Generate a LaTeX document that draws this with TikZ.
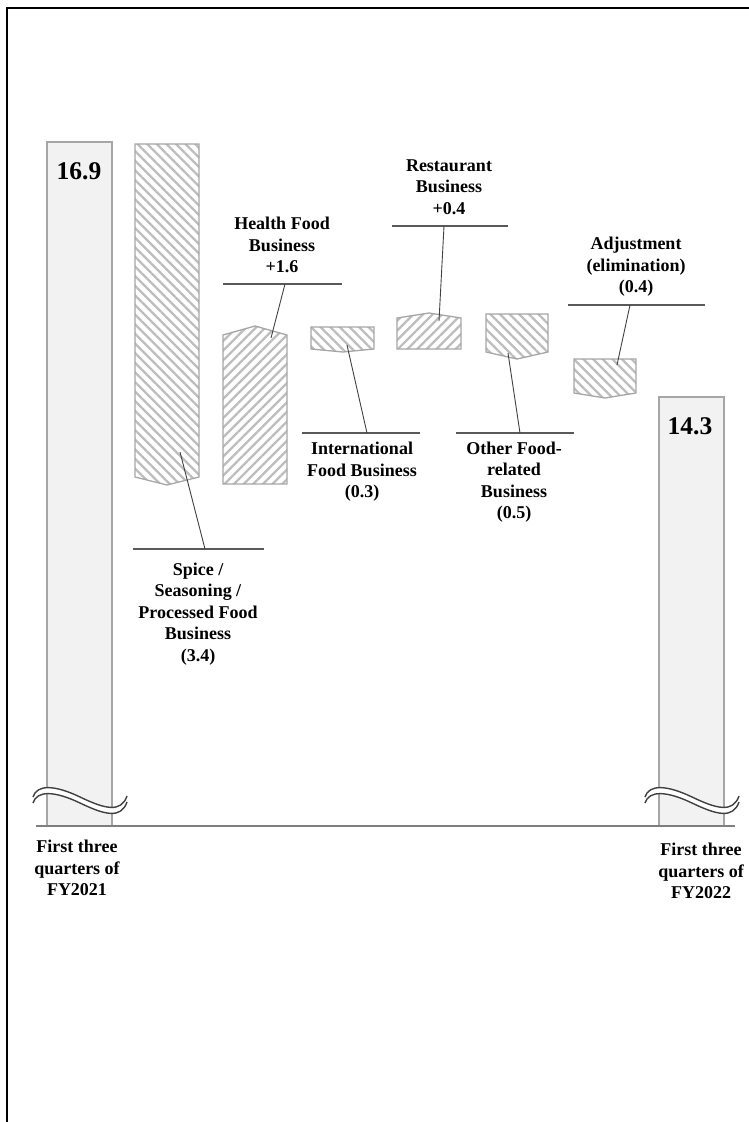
\documentclass[tikz,border=0pt]{standalone}
\usepackage{fontspec}
\setmainfont{Liberation Serif}
\usetikzlibrary{patterns.meta}
\definecolor{barfill}{HTML}{F2F2F2}
\definecolor{barline}{HTML}{A6A6A6}
\definecolor{hatchcol}{HTML}{BDBDBD}
\definecolor{leadcol}{HTML}{404040}
\definecolor{ulcol}{HTML}{595959}
\definecolor{axiscol}{HTML}{7F7F7F}
\begin{document}
\begin{tikzpicture}[x=1pt,y=-1pt,
  lbl/.style={font=\bfseries\fontsize{18}{21.5}\selectfont, align=center, text=black, inner sep=0pt},
  bignum/.style={font=\bfseries\fontsize{25.5}{27}\selectfont, text=black, inner sep=0pt},
  totalbar/.style={draw=barline, line width=1.3pt, fill=barfill},
  hatchdown/.style={draw=barline, line width=1.3pt, pattern={Lines[angle=-45,distance=6.8pt,line width=2.3pt]}, pattern color=hatchcol},
  hatchup/.style={draw=barline, line width=1.3pt, pattern={Lines[angle=45,distance=6.8pt,line width=2.3pt]}, pattern color=hatchcol},
  leader/.style={draw=leadcol, line width=0.9pt},
  underline/.style={draw=ulcol, line width=1.3pt},
  wave/.style={draw=leadcol, line width=1.4pt},
  frame/.style={draw=black, line width=2pt}
]
\useasboundingbox (0,0) rectangle (749,1122);
% frame
\draw[frame] (6,8) -- (749,8);
\draw[frame] (7,7) -- (7,1122);

% total bars
\draw[totalbar] (47,142) rectangle (112,826);
\draw[totalbar] (659,397) rectangle (724,826);

% change bars
\draw[hatchdown] (135,144) -- (199,144) -- (199,477) -- (167,485) -- (135,477) -- cycle;
\draw[hatchup] (223,484) -- (223,335) -- (255,326) -- (287,335) -- (287,484) -- cycle;
\draw[hatchdown] (311,327) -- (374,327) -- (374,349) -- (343,352) -- (311,349) -- cycle;
\draw[hatchup] (397,349) -- (397,318) -- (429,313) -- (461,318) -- (461,349) -- cycle;
\draw[hatchdown] (486,314) -- (548,314) -- (548,352) -- (517,359) -- (486,352) -- cycle;
\draw[hatchdown] (574,359) -- (636,359) -- (636,393) -- (605,398) -- (574,393) -- cycle;

% break symbols
\foreach \dx in {0,612}{
  \begin{scope}[shift={(\dx,0)}]
    \fill[white] (33,797) .. controls (37,784) and (55,785) .. (80,797) .. controls (105,809) and (121,813) .. (127,796)
      -- (127,802) .. controls (121,819) and (105,815) .. (80,803) .. controls (55,791) and (37,790) .. (33,803) -- cycle;
    \draw[wave] (33,797) .. controls (37,784) and (55,785) .. (80,797) .. controls (105,809) and (121,813) .. (127,796);
    \draw[wave] (33,803) .. controls (37,790) and (55,791) .. (80,803) .. controls (105,815) and (121,819) .. (127,802);
  \end{scope}
}

% axis
\coordinate (axL) at (36,826);
\coordinate (axR) at (735,826);
\draw[draw=axiscol, line width=1.8pt] (axL) -- (axR);

% values
\node[bignum] (v169) at (79,171) {16.9};
\node[bignum] (v143) at (690,426) {14.3};

% labels
\node[lbl] (health) at (282,245) {Health Food\\Business\\+1.6};
\node[lbl] (rest) at (449,187) {Restaurant\\Business\\+0.4};
\node[lbl] (adj) at (636,267) {Adjustment\\(elimination)\\(0.4)};
\node[lbl] (intl) at (362,472) {International\\Food Business\\(0.3)};
\node[lbl] (spice) at (198,614) {Spice /\\Seasoning /\\Processed Food\\Business\\(3.4)};
\node[lbl] (other) at (514,482) {Other Food-\\related\\Business\\(0.5)};
\node[lbl] (fy21) at (77,868) {First three\\quarters of\\FY2021};
\node[lbl] (fy22) at (701,871) {First three\\quarters of\\FY2022};

% underlines
\coordinate (hl1) at (223,284); \coordinate (hl2) at (342,284);
\coordinate (rl1) at (392,226); \coordinate (rl2) at (508,226);
\coordinate (al1) at (568,305); \coordinate (al2) at (705,305);
\coordinate (il1) at (302,433); \coordinate (il2) at (420,433);
\coordinate (sl1) at (133,549); \coordinate (sl2) at (264,549);
\coordinate (ol1) at (456,433); \coordinate (ol2) at (574,433);
\draw[underline] (hl1) -- (hl2);
\draw[underline] (rl1) -- (rl2);
\draw[underline] (al1) -- (al2);
\draw[underline] (il1) -- (il2);
\draw[underline] (sl1) -- (sl2);
\draw[underline] (ol1) -- (ol2);

% leaders
\coordinate (hA) at (285,284); \coordinate (hB) at (271,338);
\coordinate (rA) at (444,226); \coordinate (rB) at (439,321);
\coordinate (aA) at (630,305); \coordinate (aB) at (617,365);
\coordinate (iA) at (367,433); \coordinate (iB) at (347,345);
\coordinate (sA) at (205,549); \coordinate (sB) at (180,452);
\coordinate (oA) at (520,433); \coordinate (oB) at (508,353);
\draw[leader] (hA) -- (hB);
\draw[leader] (rA) -- (rB);
\draw[leader] (aA) -- (aB);
\draw[leader] (iA) -- (iB);
\draw[leader] (sA) -- (sB);
\draw[leader] (oA) -- (oB);
\end{tikzpicture}
\end{document}
